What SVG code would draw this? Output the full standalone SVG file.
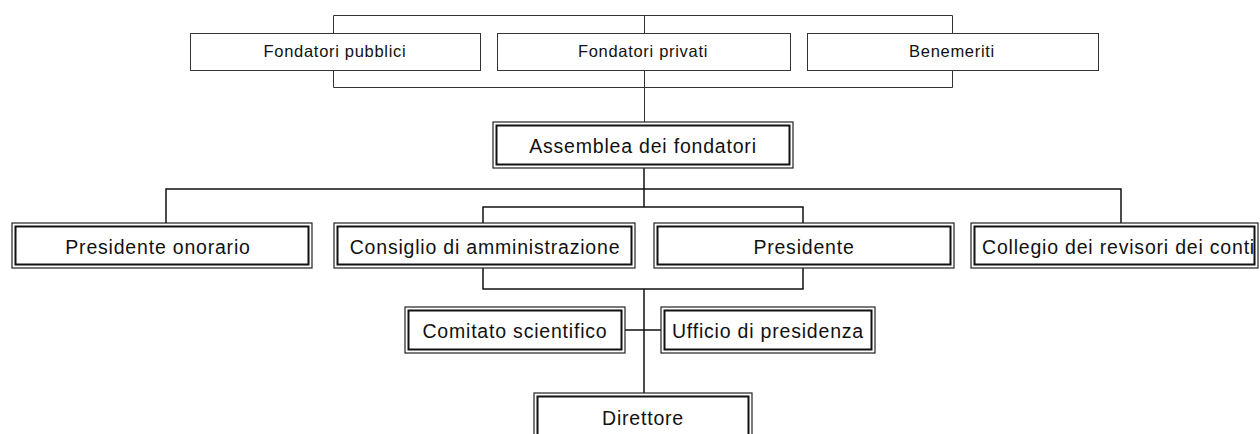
<svg xmlns="http://www.w3.org/2000/svg" width="1260" height="434" viewBox="0 0 1260 434">
<style>
.bg{fill:#fff}
.thin{fill:#fff;stroke:#333;stroke-width:1}
.out{fill:#fff;stroke:#222;stroke-width:1.2}
.in{fill:none;stroke:#111;stroke-width:2}
.t1{font-family:"Liberation Sans",Arial,sans-serif;font-size:16.5px;letter-spacing:0.7px;fill:#111;text-anchor:middle}
.t2{font-family:"Liberation Sans",Arial,sans-serif;font-size:19.5px;letter-spacing:0.8px;fill:#111;text-anchor:middle}
.c1{fill:none;stroke:#333;stroke-width:1}
.c2{fill:none;stroke:#111;stroke-width:1.5}
</style>
<rect class="bg" x="0" y="0" width="1260" height="434"/>
<g id="connectors">
<path class="c1" d="M333.5 33V15.5H952.5V33M644.5 15.5V33"/>
<path class="c1" d="M333.5 70V87.5H952.5V70M644.5 70V122"/>
<path class="c2" d="M644 168V207M166 223V189H1121V223M483 223V207H803V223"/>
<path class="c2" d="M483 268V289H803V268M644 289V393M625 330H661"/>
</g>
<g id="fondatori-pubblici"><rect class="thin" x="190.5" y="33.5" width="290" height="37"/><text class="t1" x="335" y="57">Fondatori pubblici</text></g>
<g id="fondatori-privati"><rect class="thin" x="497.5" y="33.5" width="293" height="37"/><text class="t1" x="643" y="57">Fondatori privati</text></g>
<g id="benemeriti"><rect class="thin" x="807.5" y="33.5" width="291" height="37"/><text class="t1" x="952" y="57">Benemeriti</text></g>
<g id="assemblea"><rect class="out" x="493" y="122" width="300" height="46"/><rect class="in" x="496.5" y="125.5" width="293" height="39"/><text class="t2" x="643" y="153">Assemblea dei fondatori</text></g>
<g id="presidente-onorario"><rect class="out" x="12" y="223" width="300" height="45"/><rect class="in" x="15.5" y="226.5" width="293" height="38"/><text class="t2" x="158" y="254">Presidente onorario</text></g>
<g id="consiglio"><rect class="out" x="334" y="223" width="301" height="45"/><rect class="in" x="337.5" y="226.5" width="294" height="38"/><text class="t2" x="485" y="254">Consiglio di amministrazione</text></g>
<g id="presidente"><rect class="out" x="654" y="223" width="300" height="45"/><rect class="in" x="657.5" y="226.5" width="293" height="38"/><text class="t2" x="804" y="254">Presidente</text></g>
<g id="collegio"><rect class="out" x="971" y="223" width="287" height="45"/><rect class="in" x="974.5" y="226.5" width="280" height="38"/><text class="t2" x="982" y="254" style="text-anchor:start">Collegio dei revisori dei conti</text></g>
<g id="comitato"><rect class="out" x="405" y="307" width="220" height="46"/><rect class="in" x="408.5" y="310.5" width="213" height="39"/><text class="t2" x="515" y="338">Comitato scientifico</text></g>
<g id="ufficio"><rect class="out" x="661" y="307" width="214" height="46"/><rect class="in" x="664.5" y="310.5" width="207" height="39"/><text class="t2" x="768" y="338">Ufficio di presidenza</text></g>
<g id="direttore"><rect class="out" x="534" y="393" width="218" height="50"/><rect class="in" x="537.5" y="396.5" width="211" height="43"/><text class="t2" x="643" y="425">Direttore</text></g>
</svg>
